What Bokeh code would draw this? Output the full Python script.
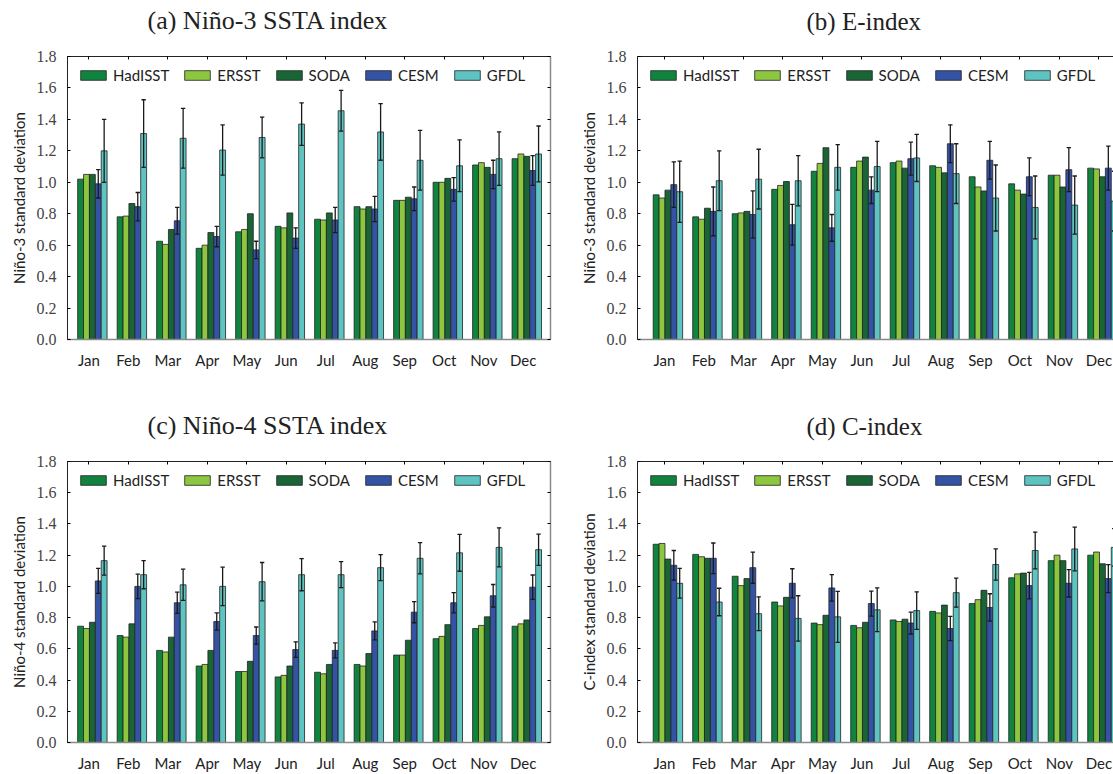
from bokeh.plotting import figure
from bokeh.models import (Range1d, FixedTicker, PrintfTickFormatter, LinearAxis,
                          ColumnDataSource, Legend, LegendItem)
from bokeh.layouts import column, row
from bokeh.embed import file_html
from bokeh.resources import INLINE

months = ["Jan", "Feb", "Mar", "Apr", "May", "Jun", "Jul", "Aug", "Sep", "Oct", "Nov", "Dec"]
series = ["HadISST", "ERSST", "SODA", "CESM", "GFDL"]
colors = ["#10843f", "#8dc63f", "#1a6535", "#3553a5", "#5ec4c1"]
y_ticks = [0.0, 0.2, 0.4, 0.6, 0.8, 1.0, 1.2, 1.4, 1.6, 1.8]

# (a) Nino-3 SSTA index
a_had = [1.02, 0.78, 0.625, 0.58, 0.685, 0.72, 0.765, 0.845, 0.885, 1.00, 1.11, 1.15]
a_ers = [1.05, 0.785, 0.605, 0.60, 0.70, 0.71, 0.76, 0.83, 0.885, 1.00, 1.125, 1.18]
a_soda = [1.05, 0.865, 0.70, 0.68, 0.80, 0.805, 0.805, 0.845, 0.905, 1.025, 1.095, 1.165]
a_cesm = [0.99, 0.845, 0.755, 0.655, 0.57, 0.645, 0.76, 0.83, 0.895, 0.955, 1.05, 1.075]
a_gfdl = [1.20, 1.31, 1.28, 1.205, 1.285, 1.37, 1.455, 1.32, 1.14, 1.105, 1.15, 1.18]
a_cesm_err = [0.09, 0.09, 0.085, 0.065, 0.055, 0.065, 0.08, 0.08, 0.075, 0.075, 0.09, 0.095]
a_gfdl_err = [0.20, 0.215, 0.19, 0.16, 0.13, 0.135, 0.13, 0.18, 0.19, 0.165, 0.17, 0.178]

# (b) E-index
b_had = [0.92, 0.78, 0.80, 0.955, 1.07, 1.095, 1.125, 1.105, 1.035, 0.99, 1.045, 1.09]
b_ers = [0.90, 0.765, 0.805, 0.98, 1.12, 1.135, 1.135, 1.095, 0.97, 0.95, 1.045, 1.085]
b_soda = [0.95, 0.835, 0.815, 1.005, 1.22, 1.16, 1.09, 1.06, 0.945, 0.925, 0.97, 1.035]
b_cesm = [0.985, 0.815, 0.795, 0.73, 0.71, 0.95, 1.15, 1.245, 1.14, 1.035, 1.08, 1.09]
b_gfdl = [0.94, 1.01, 1.02, 1.01, 1.095, 1.10, 1.155, 1.055, 0.90, 0.84, 0.855, 0.88]
b_cesm_err = [0.145, 0.155, 0.15, 0.13, 0.085, 0.085, 0.105, 0.12, 0.12, 0.12, 0.14, 0.14]
b_gfdl_err = [0.195, 0.19, 0.19, 0.16, 0.145, 0.16, 0.15, 0.19, 0.21, 0.20, 0.185, 0.19]

# (c) Nino-4 SSTA index
c_had = [0.745, 0.685, 0.59, 0.49, 0.455, 0.42, 0.45, 0.50, 0.56, 0.665, 0.73, 0.745]
c_ers = [0.73, 0.675, 0.58, 0.50, 0.455, 0.43, 0.44, 0.49, 0.56, 0.68, 0.75, 0.76]
c_soda = [0.77, 0.76, 0.675, 0.59, 0.52, 0.49, 0.50, 0.57, 0.655, 0.755, 0.805, 0.785]
c_cesm = [1.035, 1.00, 0.895, 0.775, 0.685, 0.595, 0.59, 0.715, 0.835, 0.895, 0.94, 0.995]
c_gfdl = [1.165, 1.075, 1.01, 1.00, 1.03, 1.075, 1.075, 1.12, 1.18, 1.215, 1.25, 1.235]
c_cesm_err = [0.08, 0.078, 0.068, 0.055, 0.055, 0.05, 0.048, 0.058, 0.068, 0.065, 0.072, 0.078]
c_gfdl_err = [0.093, 0.09, 0.10, 0.123, 0.123, 0.103, 0.083, 0.083, 0.10, 0.118, 0.125, 0.10]

# (d) C-index
d_had = [1.27, 1.205, 1.065, 0.90, 0.765, 0.75, 0.785, 0.84, 0.89, 1.055, 1.165, 1.20]
d_ers = [1.275, 1.19, 1.005, 0.875, 0.755, 0.735, 0.775, 0.83, 0.915, 1.08, 1.20, 1.22]
d_soda = [1.175, 1.18, 1.05, 0.93, 0.815, 0.77, 0.79, 0.88, 0.975, 1.085, 1.165, 1.145]
d_cesm = [1.135, 1.18, 1.12, 1.02, 0.99, 0.89, 0.765, 0.73, 0.865, 1.005, 1.02, 1.05]
d_gfdl = [1.02, 0.90, 0.825, 0.795, 0.805, 0.85, 0.845, 0.96, 1.14, 1.23, 1.24, 1.25]
d_cesm_err = [0.095, 0.098, 0.10, 0.093, 0.085, 0.08, 0.07, 0.078, 0.088, 0.085, 0.088, 0.09]
d_gfdl_err = [0.095, 0.088, 0.108, 0.145, 0.163, 0.14, 0.12, 0.093, 0.10, 0.118, 0.14, 0.12]

SANS = "Lato"
SERIF = "Liberation Serif"
BAR_W = 0.149
OFFSET = 0.09


def make_panel(title, ylabel, vals, cesm_err, gfdl_err, left, top_row):
    xpos = list(range(1, 13))
    if left:
        width, xr = 575, Range1d(0.46, 12.69)
        mbl, mbr = 67, 25
        title_offset, title_size = 80, "26px"
    else:
        width, xr = 538, Range1d(0.32, 12.37)
        mbl, mbr = 62, 0
        title_offset, title_size = 169, "25px"
    if top_row:
        height, mbt, mbb = 390, 56, 51
        spacer = 20
    else:
        height, mbt, mbb = 384, 71, 30
        spacer = 20
    p = figure(width=width, height=height, x_range=xr, y_range=Range1d(0, 1.8),
               output_backend="svg", toolbar_location=None, tools="",
               min_border_left=mbl, min_border_right=mbr,
               min_border_top=mbt, min_border_bottom=mbb)
    p.background_fill_color = "white"
    p.border_fill_color = "white"
    p.xgrid.visible = False
    p.ygrid.visible = False
    if left:
        p.outline_line_color = "#222222"
        p.outline_line_width = 1
    else:
        p.outline_line_color = None

    p.title.text = title
    p.title.align = "left"
    p.title.offset = title_offset
    p.title.standoff = 4
    p.title.text_font = SERIF
    p.title.text_font_size = title_size
    p.title.text_font_style = "normal"
    p.title.text_color = "#222222"

    xa = p.xaxis[0]
    xa.ticker = FixedTicker(ticks=xpos)
    xa.major_label_overrides = {i: m for i, m in zip(xpos, months)}
    xa.major_tick_line_color = None
    xa.major_tick_in = 0
    xa.major_tick_out = 0
    xa.minor_tick_line_color = None
    xa.major_label_text_font = SANS
    xa.major_label_text_font_size = "15px"
    xa.major_label_text_color = "#222222"
    xa.major_label_standoff = 11
    xa.axis_line_color = "#8a8a8a"
    xa.axis_line_width = 1.5

    ya = p.yaxis[0]
    ya.ticker = FixedTicker(ticks=y_ticks)
    ya.formatter = PrintfTickFormatter(format="%.1f")
    ya.major_tick_in = 3
    ya.major_tick_out = 0
    ya.minor_tick_line_color = None
    ya.axis_line_color = "#222222"
    ya.major_label_text_font = SERIF
    ya.major_label_text_font_size = "16px"
    ya.major_label_text_color = "#444444"
    ya.major_label_standoff = 11
    ya.axis_label = ylabel
    ya.axis_label_text_font = SANS
    ya.axis_label_text_font_size = "15px"
    ya.axis_label_text_font_style = "normal"
    ya.axis_label_text_color = "#222222"
    ya.axis_label_standoff = 6

    # top axis: inward ticks only
    top_axis = LinearAxis(ticker=FixedTicker(ticks=xpos),
                          major_tick_in=3, major_tick_out=0,
                          minor_tick_line_color=None,
                          major_label_text_font_size="10px",
                          major_label_text_color=None,
                          axis_line_color="#222222")
    p.add_layout(top_axis, "above")
    # invisible spacer between the frame and the title
    spacer_axis = LinearAxis(ticker=FixedTicker(ticks=[1]),
                             major_tick_in=0, major_tick_out=spacer,
                             major_tick_line_alpha=0,
                             minor_tick_line_color=None,
                             major_label_text_font_size="10px",
                             major_label_text_color=None,
                             axis_line_color=None)
    p.add_layout(spacer_axis, "above")
    if left:
        right_axis = LinearAxis(ticker=FixedTicker(ticks=y_ticks),
                                major_tick_in=3, major_tick_out=0,
                                minor_tick_line_color=None,
                                major_label_text_font_size="6px",
                                major_label_text_color=None,
                                major_label_standoff=0,
                                axis_line_color="#8a8a8a", axis_line_width=1.5)
        p.add_layout(right_axis, "right")

    items = []
    for i, (name, col, v) in enumerate(zip(series, colors, vals)):
        xs = [m + OFFSET + (i - 2) * BAR_W for m in xpos]
        src = ColumnDataSource(dict(x=xs, top=v))
        r = p.vbar(x="x", top="top", width=BAR_W, bottom=0, source=src,
                   fill_color=col, line_color="#222222", line_width=0.8)
        items.append(LegendItem(label=name, renderers=[r]))
        err = cesm_err if name == "CESM" else (gfdl_err if name == "GFDL" else None)
        if err is not None:
            lo = [a - e for a, e in zip(v, err)]
            hi = [a + e for a, e in zip(v, err)]
            cap = 0.055
            p.segment(x0=xs, y0=lo, x1=xs, y1=hi, line_color="#1a1a1a", line_width=1.3)
            p.segment(x0=[x - cap for x in xs], y0=lo, x1=[x + cap for x in xs], y1=lo,
                      line_color="#1a1a1a", line_width=1.3)
            p.segment(x0=[x - cap for x in xs], y0=hi, x1=[x + cap for x in xs], y1=hi,
                      line_color="#1a1a1a", line_width=1.3)

    leg = Legend(items=items, orientation="horizontal", location="top_left",
                 glyph_width=32, glyph_height=12, label_standoff=4, spacing=12,
                 padding=4, margin=10, label_height=12,
                 label_text_font=SANS, label_text_font_size="15px",
                 label_text_color="#222222",
                 border_line_color=None, background_fill_alpha=0)
    p.add_layout(leg)
    return p


pa = make_panel("(a) Niño-3 SSTA index", "Niño-3 standard deviation",
                [a_had, a_ers, a_soda, a_cesm, a_gfdl], a_cesm_err, a_gfdl_err, True, True)
pb = make_panel("(b) E-index", "Niño-3 standard deviation",
                [b_had, b_ers, b_soda, b_cesm, b_gfdl], b_cesm_err, b_gfdl_err, False, True)
pc = make_panel("(c) Niño-4 SSTA index", "Niño-4 standard deviation",
                [c_had, c_ers, c_soda, c_cesm, c_gfdl], c_cesm_err, c_gfdl_err, True, False)
pd_ = make_panel("(d) C-index", "C-index standard deviation",
                 [d_had, d_ers, d_soda, d_cesm, d_gfdl], d_cesm_err, d_gfdl_err, False, False)

layout = column(row(pa, pb), row(pc, pd_))
open("out.html", "w").write(file_html(layout, INLINE))
